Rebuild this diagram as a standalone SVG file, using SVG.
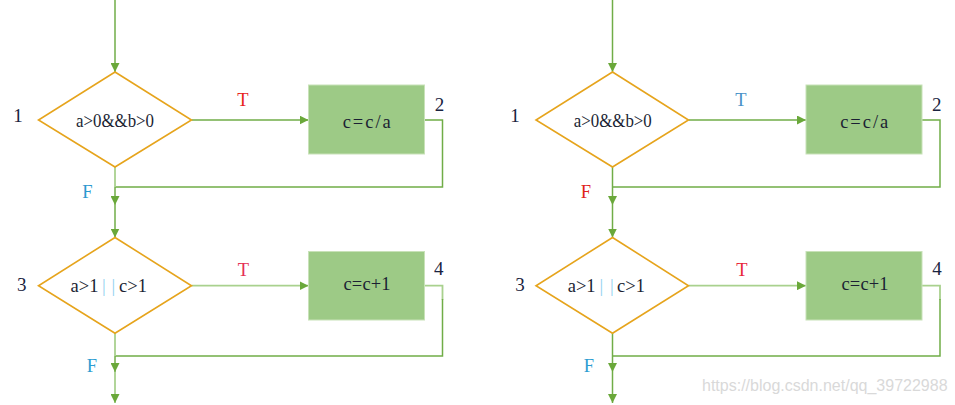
<svg xmlns="http://www.w3.org/2000/svg" width="955" height="405" viewBox="0 0 955 405">
  <style>
    .bg { fill: #ffffff; }
    .dia { fill: #ffffff; stroke: #e6a41c; stroke-width: 1.6; }
    .box { fill: #9dca86; stroke: #c8e2b8; stroke-width: 1; }
    .ln { fill: none; stroke: #70ad47; stroke-width: 1.5; }
    .ln2 { fill: none; stroke: #a9d18e; stroke-width: 1.8; }
    .arr { marker-end: url(#head); }
    .t { font-family: "Liberation Serif", "Times New Roman", serif; font-size: 18.5px; fill: #1b1f33; }
    .num { font-family: "Liberation Serif", "Times New Roman", serif; font-size: 19px; fill: #1a2340; text-anchor: middle; }
    .lab { font-family: "Liberation Serif", "Times New Roman", serif; font-size: 18.5px; text-anchor: middle; }
    .bar { fill: #8fd0f0; }
    .wm { font-family: "Liberation Sans", Arial, sans-serif; font-size: 16px; fill: #d9d9d9; }
  </style>
  <defs>
    <marker id="head" viewBox="0 0 10 10" refX="10" refY="5" markerWidth="9" markerHeight="9" markerUnits="userSpaceOnUse" orient="auto">
      <path d="M0,0 L10,5 L0,10 z" fill="#6aa83a"/>
    </marker>
  </defs>
  <rect class="bg" x="0" y="0" width="955" height="405"/>

  <!-- connectors -->
  <g id="connectors">
    <!-- left flow -->
    <line class="ln arr" x1="115" y1="0" x2="115" y2="72"/>
    <line class="ln arr" x1="191.5" y1="120" x2="308.5" y2="120"/>
    <polyline class="ln" points="424.5,120 442.5,120 442.5,187 115,187"/>
    <line class="ln2" x1="115" y1="167" x2="115" y2="187"/>
    <line class="ln arr" x1="115" y1="187" x2="115" y2="205"/>
    <line class="ln arr" x1="115" y1="205" x2="115" y2="237.5"/>
    <line class="ln2 arr" x1="191.5" y1="285.7" x2="308.5" y2="285.7"/>
    <polyline class="ln2" points="424.5,285.7 442.5,285.7 442.5,300"/>
    <polyline class="ln" points="442.5,299 442.5,356 115,356"/>
    <line class="ln2" x1="115" y1="333" x2="115" y2="356"/>
    <line class="ln arr" x1="115" y1="356" x2="115" y2="372"/>
    <line class="ln2 arr" x1="115" y1="372" x2="115" y2="403"/>

    <!-- right flow -->
    <line class="ln arr" x1="612.5" y1="0" x2="612.5" y2="72"/>
    <line class="ln arr" x1="688.5" y1="120" x2="806" y2="120"/>
    <polyline class="ln" points="922,120 940,120 940,187 612.5,187"/>
    <line class="ln" x1="612.5" y1="167" x2="612.5" y2="187"/>
    <line class="ln arr" x1="612.5" y1="187" x2="612.5" y2="205"/>
    <line class="ln arr" x1="612.5" y1="205" x2="612.5" y2="237.5"/>
    <line class="ln2 arr" x1="688.5" y1="285.7" x2="806" y2="285.7"/>
    <polyline class="ln2" points="922,285.7 940,285.7 940,300"/>
    <polyline class="ln" points="940,299 940,356 612.5,356"/>
    <line class="ln" x1="612.5" y1="333" x2="612.5" y2="356"/>
    <line class="ln arr" x1="612.5" y1="356" x2="612.5" y2="372"/>
    <line class="ln arr" x1="612.5" y1="372" x2="612.5" y2="403"/>

    <!-- branch labels -->
    <text class="lab" x="243" y="106" fill="#e8231c">T</text>
    <text class="lab" x="87.5" y="198" fill="#2b98cf">F</text>
    <text class="lab" x="243.5" y="276" fill="#e52f55">T</text>
    <text class="lab" x="92" y="372" fill="#2e9dd2">F</text>

    <text class="lab" x="741" y="106" fill="#4a92c8">T</text>
    <text class="lab" x="586" y="198" fill="#e0221c">F</text>
    <text class="lab" x="742" y="276" fill="#e8263a">T</text>
    <text class="lab" x="589" y="372" fill="#2e9dd2">F</text>
  </g>

  <!-- left: decision 1 -->
  <g id="left-cond1">
    <polygon class="dia" points="115,72 191.5,120 115,167 38.5,120"/>
    <text class="t" x="115" y="126.5" text-anchor="middle" textLength="78" lengthAdjust="spacingAndGlyphs">a&gt;0&amp;&amp;b&gt;0</text>
    <text class="num" x="18" y="122">1</text>
  </g>
  <!-- left: action 2 -->
  <g id="left-act2">
    <rect class="box" x="308.5" y="85" width="116" height="69"/>
    <text class="t" x="366.7" y="128" text-anchor="middle" textLength="48" lengthAdjust="spacing">c=c/a</text>
    <text class="num" x="439.5" y="110.5">2</text>
  </g>
  <!-- left: decision 3 -->
  <g id="left-cond3">
    <polygon class="dia" points="115,237.5 191.5,285.7 115,333.3 38.5,285.7"/>
    <text class="t" y="292.3"><tspan x="70.5">a&gt;1</tspan><tspan class="bar" x="102">|</tspan><tspan class="bar" x="111.5">|</tspan><tspan x="119">c&gt;1</tspan></text>
    <text class="num" x="21.7" y="291">3</text>
  </g>
  <!-- left: action 4 -->
  <g id="left-act4">
    <rect class="box" x="308.5" y="251.5" width="116" height="68.5"/>
    <text class="t" x="367" y="290" text-anchor="middle" textLength="47" lengthAdjust="spacing">c=c+1</text>
    <text class="num" x="438.7" y="274.5">4</text>
  </g>

  <!-- right: decision 1 -->
  <g id="right-cond1">
    <polygon class="dia" points="612.5,72 688.5,120 612.5,167 536,120"/>
    <text class="t" x="612.8" y="126.5" text-anchor="middle" textLength="78" lengthAdjust="spacingAndGlyphs">a&gt;0&amp;&amp;b&gt;0</text>
    <text class="num" x="515" y="122">1</text>
  </g>
  <!-- right: action 2 -->
  <g id="right-act2">
    <rect class="box" x="806" y="85" width="116" height="69"/>
    <text class="t" x="864.2" y="128" text-anchor="middle" textLength="48" lengthAdjust="spacing">c=c/a</text>
    <text class="num" x="936.7" y="110.5">2</text>
  </g>
  <!-- right: decision 3 -->
  <g id="right-cond3">
    <polygon class="dia" points="612.5,237.5 688.5,285.7 612.5,333.3 536,285.7"/>
    <text class="t" y="292.3"><tspan x="567.7">a&gt;1</tspan><tspan class="bar" x="599.5">|</tspan><tspan class="bar" x="610">|</tspan><tspan x="617">c&gt;1</tspan></text>
    <text class="num" x="520" y="291">3</text>
  </g>
  <!-- right: action 4 -->
  <g id="right-act4">
    <rect class="box" x="806" y="251.5" width="116" height="68.5"/>
    <text class="t" x="865" y="290" text-anchor="middle" textLength="47" lengthAdjust="spacing">c=c+1</text>
    <text class="num" x="937" y="274.5">4</text>
  </g>

  <text class="wm" x="702" y="391">https://blog.csdn.net/qq_39722988</text>
</svg>
